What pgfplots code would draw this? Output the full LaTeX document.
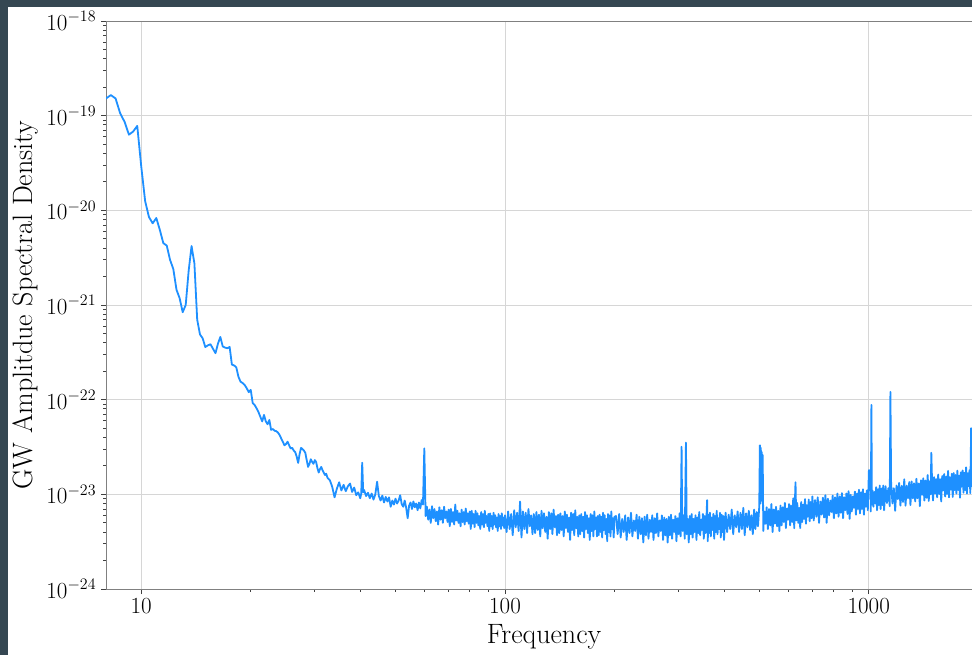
\documentclass[border=0pt]{standalone}
\usepackage{pgfplots}
\pgfplotsset{compat=1.18}
\definecolor{frame}{RGB}{53,71,82}
\definecolor{asdblue}{RGB}{30,144,255}
\begin{document}
\begin{tikzpicture}
\useasboundingbox (0,0) rectangle (729pt,491.25pt);
\clip (0,0) rectangle (729pt,491.25pt);
\fill[frame] (0,0) rectangle (729pt,491.25pt);
\fill[white] (6.2pt,0) rectangle (729pt,486.2pt);
\begin{axis}[
  at={(79.5pt,49.5pt)}, anchor=south west,
  scale only axis, width=657pt, height=426pt,
  xmode=log, ymode=log,
  xmin=8, xmax=2048, ymin=1e-24, ymax=1e-18,
  xtick={10,100,1000}, xticklabels={$10$,$100$,$1000$},
  ytick={1e-24,1e-23,1e-22,1e-21,1e-20,1e-19,1e-18},
  grid=major, major grid style={line width=0.75pt, color=black!16},
  axis line style={black!50, line width=0.6pt},
  tick style={black!75, line width=0.6pt},
  tick align=outside, xtick pos=bottom, ytick pos=left,
  major tick length=3.75pt, minor tick length=2.2pt,
  ticklabel style={font=\fontsize{16.5}{18}\selectfont},
  label style={font=\fontsize{21}{24}\selectfont},
  xlabel={Frequency}, ylabel={GW Amplitdue Spectral Density},
  xlabel style={at={(axis description cs:0.5,-0.0845)}, anchor=center},
  ylabel style={at={(axis description cs:-0.0925,0.5)}, anchor=center},
]
\addplot[asdblue, line width=1.35pt, line join=round] coordinates {
% low-frequency wall, 0.25 Hz bins
(8.0,1.52e-19) (8.25,1.65e-19) (8.5,1.52e-19) (8.75,1.06e-19) (9.0,8.6e-20) (9.25,6.3e-20)
(9.5,6.8e-20) (9.75,7.8e-20) (10.0,2.9e-20) (10.25,1.25e-20) (10.5,8.5e-21) (10.75,7.3e-21)
(11.0,8.3e-21) (11.25,6.2e-21) (11.5,4.5e-21) (11.75,4.25e-21) (12.0,3.0e-21) (12.25,2.4e-21)
(12.5,1.45e-21) (12.75,1.18e-21) (13.0,8.4e-22) (13.25,1.0e-21) (13.5,2.3e-21) (13.75,4.2e-21)
(14.0,2.75e-21) (14.25,7.0e-22) (14.5,4.9e-22) (14.75,4.45e-22) (15.0,3.6e-22) (15.25,3.75e-22)
(15.5,3.85e-22) (15.75,3.45e-22) (16.0,3.1e-22) (16.25,3.9e-22) (16.5,4.6e-22) (16.75,3.65e-22)
(17.0,3.55e-22) (17.25,3.5e-22) (17.5,3.6e-22) (17.75,2.35e-22) (18.0,2.3e-22) (18.25,2.2e-22)
(18.5,1.75e-22) (18.75,1.55e-22) (19.0,1.5e-22) (19.25,1.43e-22) (19.5,1.32e-22) (19.75,1.2e-22)
(20.0,1.27e-22) (20.25,9.2e-23) (20.5,8.8e-23) (20.75,8.1e-23) (21.0,7.4e-23) (21.25,6.6e-23)
(21.5,5.9e-23) (21.75,6.9e-23) (22.0,5.9e-23) (22.25,5.5e-23) (22.5,6.1e-23) (22.75,4.8e-23)
(23.0,4.9e-23) (23.25,4.7e-23) (23.5,4.65e-23) (23.75,4.5e-23) (24.0,4.25e-23) (24.25,3.9e-23)
(24.5,3.6e-23) (24.75,3.3e-23) (25.0,3.4e-23) (25.25,3.6e-23) (25.5,3.3e-23) (25.75,3.05e-23)
(26.0,3.1e-23) (26.25,2.9e-23) (26.5,2.8e-23) (26.75,2.5e-23) (27.0,2.15e-23) (27.25,2.67e-23)
(27.5,3.1e-23) (27.75,3.0e-23) (28.0,2.9e-23) (28.25,2.75e-23) (28.5,2.3e-23) (28.75,1.95e-23)
(29.0,2.1e-23) (29.25,2.35e-23) (29.5,2.2e-23) (29.75,2.1e-23) (30.0,2.3e-23) (30.25,2.2e-23)
(30.5,1.9e-23) (30.75,1.7e-23) (31.0,1.85e-23) (31.25,1.95e-23) (31.5,1.8e-23) (31.75,1.7e-23)
(32.0,1.6e-23) (32.25,1.65e-23) (32.5,1.5e-23) (32.75,1.45e-23)
% 33-60 Hz
(33.0,14.1e-24) (33.5,12.0e-24) (34.0,9.3e-24) (34.5,11.5e-24) (35.0,13.4e-24) (35.5,11.0e-24)
(36.0,12.6e-24) (36.5,10.8e-24) (37.0,12.2e-24) (37.5,13.0e-24) (38.0,10.6e-24) (38.5,11.8e-24)
(39.0,9.8e-24) (39.5,10.5e-24) (40.0,9.1e-24) (40.25,10.2e-24) (40.5,21.6e-24) (40.75,10.5e-24)
(41.0,11.1e-24) (41.5,9.6e-24) (42.0,10.4e-24) (42.5,9.1e-24) (43.0,10.2e-24) (43.5,8.8e-24)
(44.0,10.0e-24) (44.5,13.6e-24) (45.0,9.6e-24) (45.5,8.6e-24) (46.0,9.7e-24) (46.5,8.2e-24)
(47.0,9.4e-24) (47.5,8.4e-24) (48.0,9.3e-24) (48.5,7.4e-24) (49.0,8.6e-24) (49.5,7.8e-24)
(50.0,9.0e-24) (50.5,8.0e-24) (51.0,8.6e-24) (51.5,9.8e-24) (52.0,7.9e-24) (52.5,7.4e-24)
(53.0,8.6e-24) (53.5,7.2e-24) (54.0,5.6e-24) (54.5,7.6e-24) (55.0,8.2e-24) (55.5,7.0e-24)
(56.0,8.4e-24) (56.5,7.3e-24) (57.0,8.0e-24) (57.5,6.8e-24) (58.0,8.2e-24) (58.5,7.1e-24)
(59.0,8.7e-24) (59.5,7.8e-24) (60.0,30.6e-24) (60.5,5.9e-24)
% 61-100 Hz
(61.0,7.4e-24) (61.5,5.4e-24) (62.0,6.9e-24) (62.5,5.0e-24) (63.0,7.5e-24) (63.5,5.6e-24)
(64.0,7.0e-24) (64.5,5.2e-24) (65.0,6.6e-24) (65.5,4.8e-24) (66.0,7.3e-24) (66.5,5.4e-24)
(67.0,6.8e-24) (67.5,5.0e-24) (68.0,7.4e-24) (68.5,5.6e-24) (69.0,6.6e-24) (69.5,5.1e-24)
(70.0,6.9e-24) (70.5,4.6e-24) (71.0,7.0e-24) (71.5,5.1e-24) (72.0,6.5e-24) (72.5,4.8e-24)
(73.0,7.8e-24) (73.5,5.3e-24) (74.0,6.7e-24) (74.5,5.0e-24) (75.0,6.3e-24) (75.5,4.6e-24)
(76.0,6.9e-24) (76.5,5.1e-24) (77.0,6.5e-24) (77.5,4.8e-24) (78.0,7.1e-24) (78.5,5.2e-24)
(79.0,6.3e-24) (79.5,4.9e-24) (80.0,6.6e-24) (80.5,4.3e-24) (81.0,6.7e-24) (81.5,4.9e-24)
(82.0,6.2e-24) (82.5,4.5e-24) (83.0,6.7e-24) (83.5,5.0e-24) (84.0,6.3e-24) (84.5,4.7e-24)
(85.0,5.9e-24) (85.5,4.3e-24) (86.0,6.5e-24) (86.5,4.8e-24) (87.0,6.2e-24) (87.5,4.5e-24)
(88.0,6.7e-24) (88.5,5.0e-24) (89.0,5.9e-24) (89.5,4.6e-24) (90.0,6.2e-24) (90.5,4.1e-24)
(91.0,6.3e-24) (91.5,4.6e-24) (92.0,5.9e-24) (92.5,4.3e-24) (93.0,6.4e-24) (93.5,4.8e-24)
(94.0,6.0e-24) (94.5,4.5e-24) (95.0,5.7e-24) (95.5,4.1e-24) (96.0,6.2e-24) (96.5,4.6e-24)
(97.0,5.9e-24) (97.5,4.3e-24) (98.0,6.3e-24) (98.5,4.7e-24) (99.0,5.7e-24) (99.5,4.4e-24)
(100.0,6.0e-24)
% 101-200 Hz
(101,4.0e-24) (102,6.6e-24) (103,4.3e-24) (104,6.2e-24) (105,3.7e-24) (106,6.8e-24) (107,4.5e-24)
(108,6.4e-24) (109,4.1e-24) (110,8.4e-24) (111,3.5e-24) (112,6.6e-24) (113,4.3e-24) (114,6.4e-24)
(115,3.9e-24) (116,7.0e-24) (117,4.6e-24) (118,6.0e-24) (119,3.8e-24) (120,6.2e-24) (121,3.9e-24)
(122,6.5e-24) (123,4.2e-24) (124,6.1e-24) (125,3.6e-24) (126,6.7e-24) (127,4.4e-24) (128,6.3e-24)
(129,4.0e-24) (130,5.8e-24) (131,3.4e-24) (132,6.5e-24) (133,4.3e-24) (134,6.3e-24) (135,3.8e-24)
(136,6.9e-24) (137,4.5e-24) (138,5.9e-24) (139,3.7e-24) (140,6.1e-24) (141,3.9e-24) (142,6.3e-24)
(143,4.2e-24) (144,5.9e-24) (145,3.6e-24) (146,6.6e-24) (147,4.4e-24) (148,6.1e-24) (149,4.0e-24)
(150,5.7e-24) (151,3.3e-24) (152,6.4e-24) (153,4.2e-24) (154,6.2e-24) (155,3.7e-24) (156,6.8e-24)
(157,4.4e-24) (158,5.8e-24) (159,3.6e-24) (160,6.0e-24) (161,3.8e-24) (162,6.2e-24) (163,4.1e-24)
(164,5.8e-24) (165,3.5e-24) (166,6.5e-24) (167,4.3e-24) (168,6.0e-24) (169,3.9e-24) (170,5.6e-24)
(171,3.3e-24) (172,6.2e-24) (173,4.1e-24) (174,6.0e-24) (175,3.6e-24) (176,6.6e-24) (177,4.3e-24)
(178,5.7e-24) (179,3.6e-24) (180,5.9e-24) (181,3.7e-24) (182,6.1e-24) (183,4.0e-24) (184,5.8e-24)
(185,3.5e-24) (186,6.4e-24) (187,4.2e-24) (188,6.0e-24) (189,3.8e-24) (190,5.5e-24) (191,3.2e-24)
(192,6.2e-24) (193,4.0e-24) (194,6.0e-24) (195,3.6e-24) (196,6.6e-24) (197,4.3e-24) (198,5.6e-24)
(199,3.5e-24) (200,5.8e-24)
% 202-400 Hz
(202,5.9e-24) (204,3.8e-24) (206,6.2e-24) (208,3.5e-24) (210,5.5e-24) (212,4.0e-24) (214,6.0e-24)
(216,3.3e-24) (218,5.7e-24) (220,3.9e-24) (222,6.4e-24) (224,3.6e-24) (226,5.3e-24) (228,4.1e-24)
(230,6.1e-24) (232,3.4e-24) (234,5.8e-24) (236,3.8e-24) (238,5.6e-24) (240,3.1e-24) (242,5.8e-24)
(244,3.7e-24) (246,6.1e-24) (248,3.4e-24) (250,5.4e-24) (252,4.0e-24) (254,6.0e-24) (256,3.3e-24)
(258,5.6e-24) (260,3.9e-24) (262,6.3e-24) (264,3.6e-24) (266,5.3e-24) (268,4.1e-24) (270,6.0e-24)
(272,3.3e-24) (274,5.7e-24) (276,3.7e-24) (278,5.5e-24) (280,3.1e-24) (282,5.8e-24) (284,3.7e-24)
(286,6.1e-24) (288,3.4e-24) (290,5.4e-24) (292,4.0e-24) (294,5.9e-24) (296,3.2e-24) (298,5.6e-24)
(300,3.8e-24) (302,6.3e-24) (304,3.6e-24) (305.8,31.8e-24) (307,5.3e-24) (308,4.1e-24)
(310,6.0e-24) (312,3.4e-24) (314.4,35.2e-24) (316,3.8e-24) (318,5.5e-24) (320,3.1e-24)
(322,5.9e-24) (324,3.8e-24) (326,6.2e-24) (328,3.5e-24) (330,5.5e-24) (332,4.0e-24) (334,6.0e-24)
(336,3.3e-24) (338,5.7e-24) (340,3.9e-24) (342,6.5e-24) (344,3.7e-24) (346,5.4e-24) (348,4.2e-24)
(350,6.2e-24) (352,3.4e-24) (354,5.9e-24) (356,3.9e-24) (358,5.7e-24) (359.5,8.7e-24) (361,3.2e-24)
(362,6.1e-24) (364,3.9e-24) (366,6.4e-24) (368,3.6e-24) (370,5.7e-24) (372,4.2e-24) (374,6.2e-24)
(376,3.4e-24) (378,5.9e-24) (380,4.0e-24) (382,6.7e-24) (384,3.8e-24) (386,5.6e-24) (388,4.3e-24)
(390,6.4e-24) (392,3.5e-24) (394,6.1e-24) (396,4.0e-24) (398,5.9e-24) (400,3.3e-24)
% 404-700 Hz
(404,6.4e-24) (408,4.0e-24) (412,6.1e-24) (416,4.3e-24) (420,6.9e-24) (424,3.8e-24) (428,6.0e-24)
(432,4.5e-24) (436,6.6e-24) (440,4.0e-24) (444,6.4e-24) (448,4.3e-24) (452,7.2e-24) (456,3.7e-24)
(460,6.3e-24) (464,4.5e-24) (468,6.7e-24) (472,4.2e-24) (476,6.0e-24) (480,3.8e-24) (484,6.9e-24)
(488,4.3e-24) (492,6.5e-24) (496,4.6e-24) (500,7.4e-24)
(502,33.0e-24) (503.5,8.0e-24) (505,31.0e-24) (506.5,9.0e-24) (508,28.0e-24) (509.5,8.5e-24)
(511,26.0e-24) (513,4.1e-24)
(516,6.6e-24) (520,4.9e-24) (524,7.3e-24) (528,4.3e-24) (532,7.0e-24) (536,4.7e-24) (540,7.9e-24)
(544,4.0e-24) (548,6.9e-24) (552,4.9e-24) (556,7.4e-24) (560,4.6e-24) (564,6.7e-24) (568,4.1e-24)
(572,7.6e-24) (576,4.7e-24) (580,7.3e-24) (584,5.1e-24) (588,8.1e-24) (592,4.4e-24) (596,7.1e-24)
(600,5.4e-24) (604,7.9e-24) (608,4.7e-24) (612,7.6e-24) (616,5.1e-24) (620,9.1e-24) (624,4.4e-24)
(626,7.4e-24) (629,13.4e-24) (632,5.3e-24) (636,8.1e-24) (640,5.0e-24) (644,7.2e-24) (648,4.4e-24)
(652,8.3e-24) (656,5.1e-24) (660,7.8e-24) (664,5.5e-24) (668,8.9e-24) (672,4.9e-24) (676,7.7e-24)
(680,5.8e-24) (684,8.8e-24) (688,5.2e-24) (692,8.3e-24) (696,5.6e-24) (700,9.5e-24)
% 706-1100 Hz
(706,5.3e-24) (712,8.7e-24) (718,5.8e-24) (724,9.3e-24) (730,5.0e-24) (736,8.4e-24) (742,6.1e-24)
(748,9.2e-24) (754,5.7e-24) (760,9.8e-24) (766,5.0e-24) (772,9.0e-24) (778,6.0e-24) (784,8.6e-24)
(790,6.5e-24) (796,9.7e-24) (802,5.6e-24) (808,9.3e-24) (814,6.3e-24) (820,10.2e-24) (826,5.8e-24)
(832,9.5e-24) (838,6.4e-24) (844,10.3e-24) (850,5.6e-24) (856,9.3e-24) (862,6.8e-24) (868,10.2e-24)
(874,6.2e-24) (880,10.8e-24) (886,5.5e-24) (892,9.9e-24) (898,6.6e-24) (904,9.5e-24) (910,7.2e-24)
(916,10.7e-24) (922,6.1e-24) (928,10.2e-24) (934,7.0e-24) (940,11.2e-24) (946,6.3e-24) (952,10.5e-24)
(958,7.0e-24) (964,11.3e-24) (970,6.1e-24) (976,10.2e-24) (982,7.4e-24) (988,11.0e-24) (994,6.8e-24)
(998,11.7e-24) (1001,18.0e-24) (1004,16.5e-24) (1007,18.0e-24) (1010,17.0e-24) (1013,6.6e-24)
(1017,88.0e-24) (1020,7.8e-24) (1024,11.0e-24) (1030,7.4e-24) (1036,10.6e-24) (1042,8.0e-24)
(1048,11.9e-24) (1054,6.8e-24) (1060,11.3e-24) (1066,7.7e-24) (1072,12.4e-24) (1078,7.0e-24)
(1084,11.5e-24) (1090,7.7e-24) (1096,12.4e-24)
% 1100-2048 Hz
(1102,6.8e-24) (1112,12.2e-24) (1122,8.1e-24) (1132,11.6e-24) (1142,7.5e-24) (1147,121e-24)
(1152,13.0e-24) (1162,8.0e-24) (1172,11.6e-24) (1182,6.7e-24) (1192,12.4e-24) (1202,8.9e-24)
(1212,13.2e-24) (1222,7.6e-24) (1232,12.3e-24) (1242,8.3e-24) (1252,14.4e-24) (1262,7.6e-24)
(1272,12.4e-24) (1282,9.1e-24) (1292,13.5e-24) (1302,7.7e-24) (1312,13.7e-24) (1322,9.1e-24)
(1332,13.1e-24) (1342,8.4e-24) (1352,14.6e-24) (1362,9.1e-24) (1372,13.0e-24) (1382,7.5e-24)
(1392,14.1e-24) (1402,9.9e-24) (1412,14.8e-24) (1422,8.6e-24) (1432,14.0e-24) (1442,9.2e-24)
(1452,16.0e-24) (1462,8.5e-24) (1472,13.8e-24) (1480,10.0e-24) (1486,27.5e-24) (1492,15.0e-24)
(1502,8.6e-24) (1512,15.2e-24) (1522,10.2e-24) (1532,14.5e-24) (1542,9.3e-24) (1552,16.2e-24)
(1562,10.1e-24) (1572,14.4e-24) (1582,8.4e-24) (1592,15.6e-24) (1602,11.0e-24) (1612,16.4e-24)
(1622,9.5e-24) (1632,15.4e-24) (1642,10.1e-24) (1652,17.7e-24) (1662,9.3e-24) (1672,15.2e-24)
(1682,11.2e-24) (1692,16.5e-24) (1702,9.4e-24) (1712,16.8e-24) (1722,11.1e-24) (1732,16.0e-24)
(1742,10.2e-24) (1752,17.8e-24) (1762,11.1e-24) (1772,15.8e-24) (1782,9.2e-24) (1792,17.1e-24)
(1802,12.1e-24) (1812,17.9e-24) (1822,10.4e-24) (1832,16.9e-24) (1842,11.1e-24) (1852,19.3e-24)
(1862,10.2e-24) (1872,16.7e-24) (1882,12.2e-24) (1892,18.0e-24) (1902,10.3e-24) (1912,50.0e-24)
(1918,18.3e-24) (1922,12.2e-24) (1932,17.4e-24) (1942,11.2e-24) (1952,19.4e-24) (1962,12.1e-24)
(1972,17.2e-24) (1982,10.0e-24) (1992,18.6e-24) (2002,13.1e-24) (2012,19.5e-24) (2022,11.3e-24)
(2032,18.4e-24) (2042,12.1e-24) (2048,19.6e-24)
};
\end{axis}
\end{tikzpicture}
\end{document}
